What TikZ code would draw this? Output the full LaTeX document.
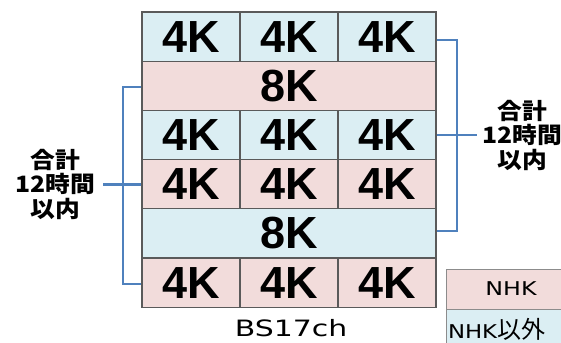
\documentclass[tikz,border=0pt]{standalone}
\usepackage{fontspec}
\setmainfont{Liberation Sans}
\newfontfamily\jp{Noto Sans CJK JP}
\newfontfamily\dv{DejaVu Sans}
\definecolor{cblue}{RGB}{219,238,243}
\definecolor{cpink}{RGB}{242,220,219}
\definecolor{cline}{RGB}{90,90,90}
\definecolor{cbr}{RGB}{79,129,189}
\definecolor{clg}{RGB}{140,140,140}
\begin{document}
\begin{tikzpicture}[x=1pt,y=-1pt,
  cell/.style={draw=cline, line width=1.2pt, minimum width=98pt, minimum height=49.2pt,
    inner sep=0pt, font=\fontsize{45}{45}\selectfont\bfseries},
  wide/.style={cell, minimum width=294pt},
  blu/.style={fill=cblue}, pnk/.style={fill=cpink},
  br/.style={draw=cbr, line width=2.8pt},
  lab/.style={align=center, inner sep=0pt, font=\jp\bfseries\fontsize{22.5}{24.5}\selectfont},
  leg/.style={draw=clg, line width=0.8pt, minimum width=130pt, minimum height=40pt, inner sep=2pt,
    font=\dv\fontsize{19}{19}\selectfont},
]
\useasboundingbox (0,0) rectangle (561,342);
\clip (0,0) rectangle (561,342);
% row 1
\node[cell,blu] (r1c1) at (191,36.6) {4K};
\node[cell,blu] (r1c2) at (289,36.6) {4K};
\node[cell,blu] (r1c3) at (387,36.6) {4K};
% row 2
\node[wide,pnk] (r2) at (289,85.8) {8K};
% row 3
\node[cell,blu] (r3c1) at (191,135) {4K};
\node[cell,blu] (r3c2) at (289,135) {4K};
\node[cell,blu] (r3c3) at (387,135) {4K};
% row 4
\node[cell,pnk] (r4c1) at (191,184.2) {4K};
\node[cell,pnk] (r4c2) at (289,184.2) {4K};
\node[cell,pnk] (r4c3) at (387,184.2) {4K};
% row 5
\node[wide,blu] (r5) at (289,233.4) {8K};
% row 6
\node[cell,pnk] (r6c1) at (191,282.6) {4K};
\node[cell,pnk] (r6c2) at (289,282.6) {4K};
\node[cell,pnk] (r6c3) at (387,282.6) {4K};

\node[inner sep=0pt, font=\dv\fontsize{22.5}{22.5}\selectfont] (bs) at (291,328.5) {\scalebox{1.33}[1]{BS17ch}};

% labels
\node[lab] (ll) at (55,184) {\scalebox{1.1}[1]{合計}\\\scalebox{1.1}[1]{12時間}\\\scalebox{1.1}[1]{以内}};
\node[lab] (rl) at (522,135) {\scalebox{1.1}[1]{合計}\\\scalebox{1.1}[1]{12時間}\\\scalebox{1.1}[1]{以内}};

% brackets
\coordinate (lt) at (123,87);
\coordinate (lb) at (123,284);
\coordinate (lm) at (103,184.2);
\draw[br] ([yshift=-1.2pt]r2.west) -- (lt) -- (lb) -- ([yshift=-1.4pt]r6c1.west);
\draw[br] (r4c1.west) -- (lm);
\coordinate (rt) at (457,40);
\coordinate (rb) at (457,231);
\coordinate (rm) at (477,135);
\draw[br] ([yshift=-3.4pt]r1c3.east) -- (rt) -- (rb) -- ([yshift=2.4pt]r5.east);
\draw[br] (r3c3.east) -- (rm);

% legend
\node[leg, fill=cpink] (nhk) at (511,289) {\scalebox{1.25}[1]{NHK}};
\node[leg, fill=cblue] (oth) at (511,329) {\makebox[126pt][l]{\scalebox{1.2}[1]{NHK}{\jp\fontsize{24}{24}\selectfont 以外}}};
\end{tikzpicture}
\end{document}
